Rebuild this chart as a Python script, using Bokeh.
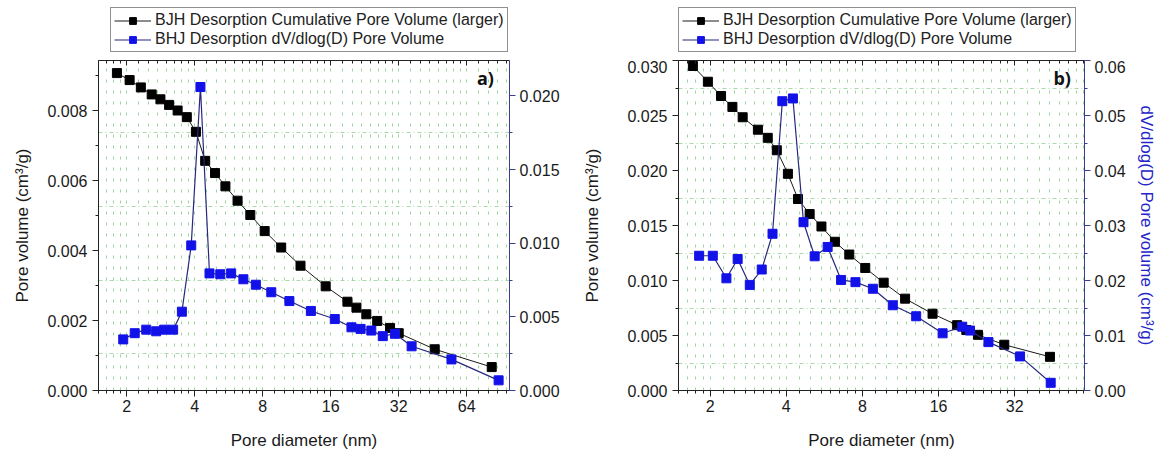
from bokeh.plotting import figure
from bokeh.models import (Range1d, LinearAxis, LogAxis, FixedTicker, SingleIntervalTicker,
                          NumeralTickFormatter, Legend, LegendItem, Label, Grid,
                          CustomJSTickFormatter)
from bokeh.layouts import row, column
from bokeh.embed import file_html
from bokeh.resources import INLINE

# ---------------- data ----------------
x_major_ticks = [2, 4, 8, 16, 32, 64]

# panel a)
a_cum_d = [1.81, 2.06, 2.31, 2.58, 2.82, 3.08, 3.36, 3.69, 4.05, 4.45, 4.92, 5.47, 6.19, 7.05,
           8.16, 9.66, 11.76, 15.2, 18.97, 20.8, 23.0, 25.7, 29.3, 32.0, 46.2, 82.6]
a_cum_v = [0.00908, 0.00888, 0.00867, 0.00847, 0.00833, 0.00817, 0.00801, 0.00782, 0.00740,
           0.00657, 0.00622, 0.00584, 0.00543, 0.00502, 0.00456, 0.00409, 0.00357, 0.00298,
           0.00254, 0.00237, 0.00218, 0.00199, 0.00179, 0.00164, 0.00118, 0.00067]
a_dv_d = [1.93, 2.17, 2.44, 2.70, 2.93, 3.21, 3.51, 3.86, 4.24, 4.65, 5.19, 5.80, 6.57, 7.46,
          8.73, 10.5, 13.07, 16.68, 19.77, 21.7, 24.2, 27.2, 30.8, 36.5, 54.8, 88.6]
a_dv_v = [0.00347, 0.00389, 0.00413, 0.00402, 0.00413, 0.00413, 0.00535, 0.00985, 0.0206,
          0.00795, 0.00789, 0.00795, 0.00755, 0.00718, 0.00667, 0.00607, 0.00540, 0.00485,
          0.00429, 0.00418, 0.00407, 0.00369, 0.00385, 0.00300, 0.00211, 0.00069]

# panel b)
b_cum_d = [1.71, 1.96, 2.21, 2.45, 2.69, 3.09, 3.38, 3.67, 4.06, 4.45, 4.95, 5.51, 6.23, 7.10,
           8.21, 9.71, 11.8, 15.15, 18.95, 20.6, 22.9, 29.1, 44.1]
b_cum_v = [0.0295, 0.02807, 0.02677, 0.02578, 0.02484, 0.02371, 0.02297, 0.02184, 0.01970,
           0.01741, 0.01604, 0.01491, 0.01352, 0.01236, 0.01114, 0.00980, 0.00835, 0.00698,
           0.00594, 0.00550, 0.00506, 0.00416, 0.00306]
b_dv_d = [1.81, 2.05, 2.32, 2.57, 2.87, 3.20, 3.53, 3.86, 4.25, 4.68, 5.18, 5.83, 6.59, 7.51,
          8.80, 10.55, 13.05, 16.6, 19.85, 21.3, 25.2, 33.6, 44.4]
b_dv_v = [0.0245, 0.0245, 0.0204, 0.0239, 0.0192, 0.0220, 0.0285, 0.0526, 0.0531, 0.0306,
          0.0244, 0.0261, 0.0201, 0.0197, 0.0185, 0.0155, 0.0135, 0.0104, 0.0116, 0.0109,
          0.0088, 0.0062, 0.0014]

legend_cum = "BJH Desorption Cumulative Pore Volume (larger)"
legend_dv = "BHJ Desorption dV/dlog(D) Pore Volume"
x_title = "Pore diameter (nm)"
y_title = "Pore volume (cm\u00b3/g)"
y2_title = "dV/dlog(D) Pore volume (cm\u00b3/g)"

FONT = "Liberation Sans"
GRID_GREEN = "#8ccc8c"
BLUE_FILL = "#1212e8"
BLUE_LINE = "#27277e"
AXIS_BLUE = "#3c3c96"
TOP_H = 60


def log2_minor(lo, hi):
    out = []
    for k in range(0, 8):
        base = 2 ** k
        for i in range(1, 8):
            out.append(base * (1 + i / 8))
    return [t for t in out if lo <= t <= hi]


def line_marker(p, color_line, color_fill, xs, ys, lw, y_range_name=None):
    kw = {} if y_range_name is None else {"y_range_name": y_range_name}
    l = p.line(xs, ys, line_color=color_line, line_width=lw, **kw)
    s = p.scatter(xs, ys, marker="square", size=9, fill_color=color_fill,
                  line_color=color_fill, **kw)
    return l, s


def make_legend_fig(width, leg_dx, cum_d, cum_v, dv_d, dv_v):
    # a strip above the panel that only holds the legend; the series are drawn
    # here too, but the strip's ranges keep them out of view.
    lf = figure(width=width, height=TOP_H, x_range=Range1d(-2, -1), y_range=Range1d(-2, -1),
                output_backend="svg", toolbar_location=None,
                x_axis_location=None, y_axis_location=None,
                min_border_left=0, min_border_right=0, min_border_top=0,
                min_border_bottom=0)
    lf.outline_line_color = None
    lf.xgrid.visible = False
    lf.ygrid.visible = False
    l1, s1 = line_marker(lf, "#1a1a1a", "black", cum_d, cum_v, 1)
    l2, s2 = line_marker(lf, BLUE_LINE, BLUE_FILL, dv_d, dv_v, 1.2)
    leg = Legend(items=[LegendItem(label=legend_cum, renderers=[l1, s1]),
                        LegendItem(label=legend_dv, renderers=[l2, s2])],
                 location=(leg_dx, 8), orientation="vertical")
    leg.label_text_font = FONT
    leg.label_text_font_size = "16px"
    leg.label_text_color = "#222222"
    leg.border_line_color = "#222222"
    leg.border_line_width = 1
    leg.background_fill_color = "white"
    leg.background_fill_alpha = 1
    leg.padding = 3
    leg.spacing = 1
    leg.margin = 0
    leg.glyph_width = 37
    leg.glyph_height = 17
    leg.label_height = 17
    leg.label_standoff = 4
    lf.add_layout(leg)
    return lf


def make_panel(width, xr, yl, yr, cum_d, cum_v, dv_d, dv_v, yl_step, yr_step,
               yl_fmt, yr_fmt, border_left, border_right, left_label_standoff,
               show_right_title, tag, tag_x, tag_y):
    p = figure(width=width, height=452 - TOP_H, x_axis_type="log",
               x_range=Range1d(*xr), y_range=Range1d(*yl),
               output_backend="svg", toolbar_location=None,
               min_border_left=border_left, min_border_right=border_right,
               min_border_top=0, min_border_bottom=56)
    p.outline_line_color = None
    p.background_fill_color = "white"
    p.extra_y_ranges = {"right": Range1d(*yr)}

    minors = log2_minor(xr[0], xr[1])
    xt = FixedTicker(ticks=x_major_ticks, minor_ticks=minors)

    # bottom axis
    xa = p.xaxis[0]
    xa.ticker = xt
    xa.formatter = NumeralTickFormatter(format="0")
    xa.axis_label = x_title
    xa.axis_label_text_font = FONT
    xa.axis_label_text_font_size = "17px"
    xa.axis_label_text_font_style = "normal"
    xa.axis_label_text_color = "#1a1a1a"
    xa.axis_label_standoff = 16
    xa.major_label_text_font = FONT
    xa.major_label_text_font_size = "16px"
    xa.major_label_text_color = "#1a1a1a"
    xa.major_label_standoff = 3
    xa.major_tick_in = 0
    xa.major_tick_out = 6
    xa.minor_tick_in = 0
    xa.minor_tick_out = 3
    xa.axis_line_color = "#222222"
    xa.major_tick_line_color = "#222222"
    xa.minor_tick_line_color = "#222222"

    # left axis
    ya = p.yaxis[0]
    ya.ticker = SingleIntervalTicker(interval=yl_step, num_minor_ticks=2)
    ya.formatter = NumeralTickFormatter(format=yl_fmt)
    ya.axis_label = y_title
    ya.axis_label_text_font = FONT
    ya.axis_label_text_font_size = "17px"
    ya.axis_label_text_font_style = "normal"
    ya.axis_label_text_color = "#1a1a1a"
    ya.axis_label_standoff = left_label_standoff
    ya.major_label_text_font = FONT
    ya.major_label_text_font_size = "16px"
    ya.major_label_text_color = "#1a1a1a"
    ya.major_label_standoff = 5
    ya.major_tick_in = 0
    ya.major_tick_out = 6
    ya.minor_tick_in = 0
    ya.minor_tick_out = 3
    ya.axis_line_color = "#222222"
    ya.major_tick_line_color = "#222222"
    ya.minor_tick_line_color = "#222222"

    # right axis
    ra = LinearAxis(y_range_name="right",
                    ticker=SingleIntervalTicker(interval=yr_step, num_minor_ticks=2),
                    formatter=NumeralTickFormatter(format=yr_fmt))
    ra.major_label_text_font = FONT
    ra.major_label_text_font_size = "16px"
    ra.major_label_text_color = "#1a1a1a"
    ra.major_label_standoff = 4
    ra.major_tick_in = 0
    ra.major_tick_out = 6
    ra.minor_tick_in = 0
    ra.minor_tick_out = 3
    ra.axis_line_color = AXIS_BLUE
    ra.major_tick_line_color = AXIS_BLUE
    ra.minor_tick_line_color = AXIS_BLUE
    if show_right_title:
        ra.axis_label = y2_title
        ra.axis_label_text_font = FONT
        ra.axis_label_text_font_size = "17px"
        ra.axis_label_text_font_style = "normal"
        ra.axis_label_text_color = "#2424c8"
        ra.axis_label_standoff = 8
    p.add_layout(ra, "right")

    # top axis (ticks only, no labels)
    ta = LogAxis(ticker=FixedTicker(ticks=x_major_ticks, minor_ticks=minors),
                 formatter=CustomJSTickFormatter(code="return ''"))
    ta.major_label_text_color = None
    ta.major_label_text_font_size = "1px"
    ta.major_label_standoff = 0
    ta.major_tick_in = 5
    ta.major_tick_out = 0
    ta.minor_tick_in = 3
    ta.minor_tick_out = 0
    ta.axis_line_color = "#222222"
    ta.major_tick_line_color = "#222222"
    ta.minor_tick_line_color = "#222222"
    p.add_layout(ta, "above")

    # grids
    p.xgrid.ticker = FixedTicker(ticks=x_major_ticks + minors)
    p.xgrid.grid_line_color = GRID_GREEN
    p.xgrid.grid_line_dash = "3 8"
    p.xgrid.grid_line_width = 1
    p.xgrid.grid_line_alpha = 0.85
    p.ygrid.grid_line_color = None

    r_minor = []
    v = yr_step / 2
    while v < yr[1]:
        r_minor.append(round(v, 6))
        v += yr_step
    hg = Grid(dimension=1, ticker=FixedTicker(ticks=r_minor), y_range_name="right",
              grid_line_color=GRID_GREEN, grid_line_dash="4 3 1 3", grid_line_width=1,
              grid_line_alpha=0.75)
    p.add_layout(hg)

    # data
    line_marker(p, "#1a1a1a", "black", cum_d, cum_v, 1)
    line_marker(p, BLUE_LINE, BLUE_FILL, dv_d, dv_v, 1.2, "right")

    lab = Label(x=tag_x, y=tag_y, text=tag, text_font="Open Sans",
                text_font_style="bold", text_font_size="18px", text_color="#111111",
                text_baseline="bottom")
    p.add_layout(lab)
    return p


pa = make_panel(580, (1.5, 99), (0, 0.00944), (0, 0.0224), a_cum_d, a_cum_v, a_dv_d, a_dv_v,
                0.002, 0.005, "0.000", "0.000", 98, 71, 12, False, "a)", 71.0, 0.0086)
pb = make_panel(578, (1.5, 60.4), (0, 0.030), (0, 0.060), b_cum_d, b_cum_v, b_dv_d, b_dv_v,
                0.005, 0.01, "0.000", "0.00", 95, 70, 22, True, "b)", 45.5, 0.0273)

la = make_legend_fig(580, 12, a_cum_d, a_cum_v, a_dv_d, a_dv_v)
lb = make_legend_fig(578, 0, b_cum_d, b_cum_v, b_dv_d, b_dv_v)

layout = row(column(la, pa, spacing=0), column(lb, pb, spacing=0), spacing=0)
open("out.html", "w").write(file_html(layout, INLINE))
